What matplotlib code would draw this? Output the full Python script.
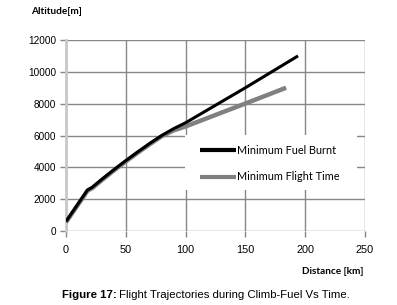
import matplotlib
matplotlib.use("Agg")
import matplotlib.pyplot as plt
from matplotlib.patches import Rectangle

# Data
fuel_x = [0, 18, 22, 30, 40, 50, 60, 70, 80, 90, 100, 150, 194]
fuel_y = [600, 2580, 2750, 3250, 3850, 4420, 4970, 5500, 6000, 6430, 6800, 9000, 11000]
time_x = [0, 18, 22, 30, 40, 50, 60, 70, 80, 90, 100, 150, 184]
time_y = [550, 2530, 2700, 3200, 3800, 4370, 4920, 5450, 5950, 6320, 6570, 8010, 9000]
series_names = ["Minimum Fuel Burnt", "Minimum Flight Time"]
x_ticks = [0, 50, 100, 150, 200, 250]
y_ticks = [0, 2000, 4000, 6000, 8000, 10000, 12000]

W, H = 397, 305
fig = plt.figure(figsize=(W/100, H/100), dpi=100)
ax = fig.add_axes([66/W, 1-231/H, (365-66)/W, (231-40)/H])

ax.plot(time_x, time_y, color="#808080", lw=3.2, label=series_names[1], zorder=3, solid_capstyle="butt")
ax.plot(fuel_x, fuel_y, color="black", lw=2.2, label=series_names[0], zorder=4, solid_capstyle="butt")

ax.set_xlim(0, 250)
ax.set_ylim(0, 12000)
ax.set_xticks(x_ticks)
ax.set_yticks(y_ticks)
ax.grid(True, color="#878787", lw=1.0)
ax.set_axisbelow(True)
for s in ["top", "right", "bottom"]:
    ax.spines[s].set_visible(False)
ax.spines["left"].set_color("#c8c8c8")
ax.spines["left"].set_linewidth(2)
ax.tick_params(axis="both", colors="#878787", length=4, width=1)
ax.tick_params(axis="y", labelcolor="black", labelsize=7.2, pad=3)
ax.tick_params(axis="x", labelcolor="black", labelsize=7.8, pad=6)
for lab in ax.get_xticklabels() + ax.get_yticklabels():
    lab.set_family("Liberation Sans")

# white legend area covering the grid
ax.add_patch(Rectangle((185/W, 1-190/H), (357-185)/W, (190-135)/H,
                       transform=fig.transFigure, facecolor="white",
                       edgecolor="none", zorder=2, clip_on=False))

handles, labels = ax.get_legend_handles_labels()
leg = ax.legend(handles[::-1], labels[::-1], loc="center left",
                bbox_to_anchor=(200/W, 1-163.5/H), bbox_transform=fig.transFigure,
                frameon=False, handlelength=3.3, handletextpad=0.1, labelspacing=1.47,
                borderpad=0, borderaxespad=0, prop={"family": "Lato", "size": 7.8})
for h in leg.legend_handles:
    h.set_linewidth(3)
leg.set_zorder(5)

fig.text(31/W, 1-12/H, "Altitude[m]", fontsize=7.2, fontweight="bold",
         family="Lato", ha="left", va="center")
fig.text(364/W, 1-271/H, "Distance [km]", fontsize=7.2, fontweight="bold",
         family="Lato", ha="right", va="center")

# caption: bold prefix + normal rest, centred over 45..367 px
fig.canvas.draw()
r = fig.canvas.get_renderer()
cap_y = 1 - 295/H
t1 = fig.text(0, cap_y, "Figure 17:", fontsize=8.2, fontweight="bold",
              family="Liberation Sans", ha="left", va="center")
t2 = fig.text(0, cap_y, " Flight Trajectories during Climb-Fuel Vs Time.", fontsize=8.2,
              family="Liberation Sans", ha="left", va="center")
w1 = t1.get_window_extent(r).width
w2 = t2.get_window_extent(r).width
x0 = (45 + 367) / 2 - (w1 + w2) / 2
t1.set_x(x0 / W)
t2.set_x((x0 + w1) / W)

fig.savefig("out.png", dpi=100)
